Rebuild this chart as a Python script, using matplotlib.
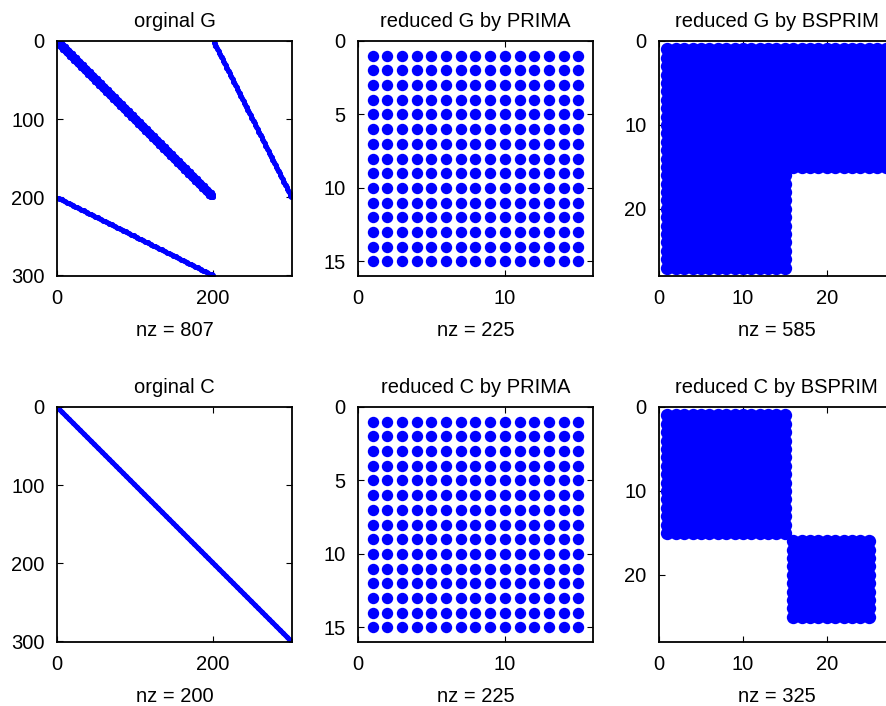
import matplotlib.pyplot as plt
import numpy as np

plt.rcParams['font.family'] = ['Liberation Sans', 'DejaVu Sans']

# matrix sizes and structure
orig_n = 300
G_band_rows = (1, 200)            # thick band on the diagonal block
G_band_offsets = [-4, -3, -2, -1, 0, 1, 2, 3, 4]
G_coupling_cols = (201, 300)      # each column couples to 2 rows of the band block
C_diag = (1, 300)

prima_n = 15
prima_blocks = [((1, 15), (1, 15))]

bsprim_n = 27
bsprimG_blocks = [((1, 15), (1, 27)), ((16, 27), (1, 15))]
bsprimC_blocks = [((1, 15), (1, 15)), ((16, 25), (16, 25))]

titles = ['orginal G', 'reduced G by PRIMA', 'reduced G by BSPRIM',
          'orginal C', 'reduced C by PRIMA', 'reduced C by BSPRIM']
nz_values = [807, 225, 585, 200, 225, 325]


def block_pattern(blocks):
    rows, cols = [], []
    for (r0, r1), (c0, c1) in blocks:
        rr, cc = np.meshgrid(np.arange(r0, r1 + 1), np.arange(c0, c1 + 1), indexing='ij')
        rows.append(rr.ravel())
        cols.append(cc.ravel())
    return np.concatenate(rows), np.concatenate(cols)


def orig_G_pattern():
    rows, cols = [], []
    base = np.arange(G_band_rows[0], G_band_rows[1] + 1)
    for off in G_band_offsets:
        c = base + off
        keep = (c >= G_band_rows[0]) & (c <= G_band_rows[1])
        rows.append(base[keep])
        cols.append(c[keep])
    k = np.arange(G_coupling_cols[0], G_coupling_cols[1] + 1)
    j = k - G_coupling_cols[0]
    for r in (2 * j + 1, 2 * j + 2):
        rows.append(r); cols.append(k)
        rows.append(k); cols.append(r)
    return np.concatenate(rows), np.concatenate(cols)


C_rows = np.arange(C_diag[0], C_diag[1] + 1)
patterns = [
    (orig_G_pattern(), orig_n, 3.6, [0, 200], [0, 100, 200, 300]),
    (block_pattern(prima_blocks), prima_n, 8.2, [0, 10], [0, 5, 10, 15]),
    (block_pattern(bsprimG_blocks), bsprim_n, 9.6, [0, 10, 20], [0, 10, 20]),
    ((C_rows, C_rows), orig_n, 3.6, [0, 200], [0, 100, 200, 300]),
    (block_pattern(prima_blocks), prima_n, 8.2, [0, 10], [0, 5, 10, 15]),
    (block_pattern(bsprimC_blocks), bsprim_n, 9.6, [0, 10, 20], [0, 10, 20]),
]

fig = plt.figure(figsize=(8.87, 7.06), dpi=100)
lefts = [57 / 887, 358 / 887, 659 / 887]
bottoms = [1 - 276 / 706, 1 - 642 / 706]
w, h = 235 / 887, 235 / 706

for i, ((r, c), n, ms, xt, yt) in enumerate(patterns):
    ax = fig.add_axes([lefts[i % 3], bottoms[i // 3], w, h])
    ax.plot(c, r, 'o', color='blue', ms=ms, mew=0)
    ax.set_xlim(0, n + 1)
    ax.set_ylim(n + 1, 0)
    ax.set_xticks(xt)
    ax.set_yticks(yt)
    ax.tick_params(direction='in', top=True, right=True, length=4, labelsize=14.5)
    ax.tick_params(axis='y', pad=9)
    ax.tick_params(axis='x', pad=9)
    for s in ax.spines.values():
        s.set_linewidth(1.3)
    ax.set_title(titles[i], fontsize=14.5, pad=10)
    ax.set_xlabel('nz = %d' % nz_values[i], fontsize=14.5, labelpad=10)

fig.savefig('out.png', dpi=100)
